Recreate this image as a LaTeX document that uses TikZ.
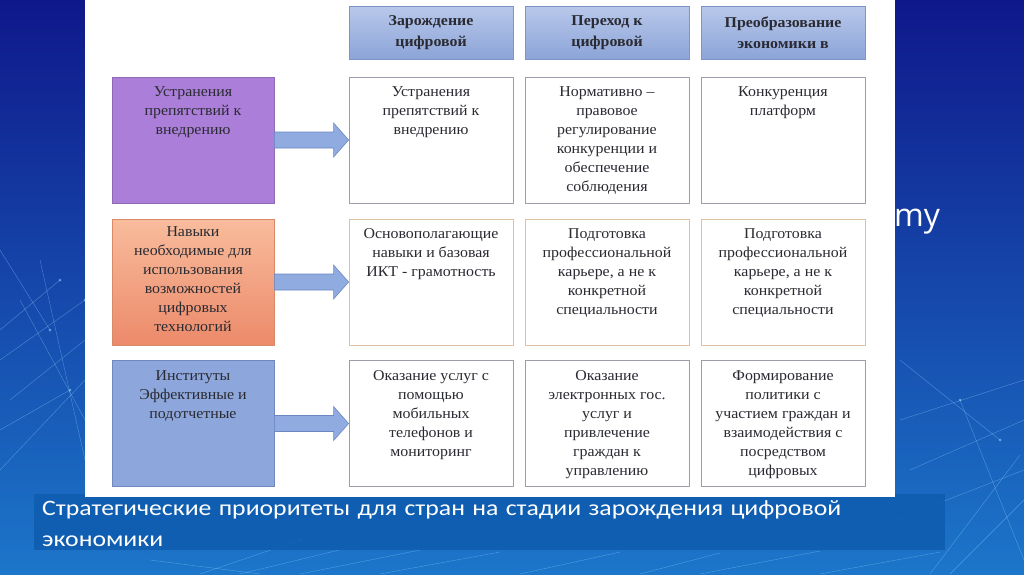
\documentclass[tikz,border=0pt]{standalone}
\usepackage{fontspec}
\setmainfont[FakeStretch=1.06]{Liberation Serif}
\newfontfamily\capfont[FakeStretch=1.17]{Carlito}
\newfontfamily\bgfont{Open Sans}
\usetikzlibrary{calc}
\definecolor{bgtop}{HTML}{0F188A}
\definecolor{bgbot}{HTML}{1C76CA}
\definecolor{netc}{HTML}{8FD0FF}
\definecolor{capband}{HTML}{0F5DB0}
\definecolor{hdrtop}{HTML}{B8C8EA}
\definecolor{hdrbot}{HTML}{8CA4D8}
\definecolor{hdrline}{HTML}{7F93C4}
\definecolor{purp}{HTML}{AB7FD9}
\definecolor{purpline}{HTML}{8D6AB3}
\definecolor{orgtop}{HTML}{F8BC9C}
\definecolor{orgbot}{HTML}{EC8A6A}
\definecolor{orgline}{HTML}{D88A66}
\definecolor{bluebox}{HTML}{8DA7DC}
\definecolor{blueline}{HTML}{6F88BE}
\definecolor{greyline}{HTML}{9C9CAA}
\definecolor{tanline}{HTML}{DCC2A2}
\definecolor{arrfill}{HTML}{8FABDF}
\definecolor{arrline}{HTML}{6C88C2}
\definecolor{txt}{HTML}{2A2A32}
\tikzset{
  hdr/.style={draw=hdrline, line width=0.8pt, top color=hdrtop, bottom color=hdrbot,
    minimum width=164pt, minimum height=53pt, inner sep=0pt, align=center, text=txt,
    font=\bfseries\fontsize{15}{21}\selectfont},
  cellbox/.style={draw=#1, line width=0.8pt, fill=white, minimum width=164pt, minimum height=126pt, inner sep=0pt},
  leftbox/.style={draw=#1, line width=0.8pt, minimum width=162pt, minimum height=126pt, inner sep=0pt},
  celltxt/.style={anchor=north, align=center, text=txt, inner sep=0pt,
    font=\fontsize{15}{19}\selectfont},
  blockarrow/.style={fill=arrfill, draw=arrline, line width=0.6pt, line join=miter},
  net/.style={draw=netc, line width=0.4pt, opacity=0.45},
}
\begin{document}
\begin{tikzpicture}[x=1pt,y=-1pt]
\useasboundingbox (0,0) rectangle (1024,574);
\shade[top color=bgtop, bottom color=bgbot] (0,0) rectangle (1024,574);
% faint network lines in background
\foreach \a/\b/\c/\d in {0/330/60/280, 0/360/85/300, 10/400/85/340, 0/430/70/390, 20/300/85/420, 0/470/85/380,
  40/260/85/460, 0/250/50/330, 200/574/300/540, 240/574/360/545, 300/574/420/550, 380/574/500/552,
  150/560/260/574, 520/574/620/552, 640/574/720/553, 900/420/1024/380, 910/470/1024/420, 895/520/1024/470,
  950/574/1024/500, 900/360/1000/440, 930/574/1020/455, 960/400/1024/560, 700/574/820/551, 820/574/940/552}
  {\draw[net] (\a,\b) -- (\c,\d);}
\foreach \p in {(60,280),(85,300),(70,390),(50,330),(1000,440),(960,400),(300,540)}
  {\fill[netc, opacity=0.6] \p circle (1.5pt);}
% background text partly hidden
\node[anchor=base west, text=white, inner sep=0pt, font=\bgfont\fontsize{32}{38}\selectfont] (bgword) at (894,226) {my};
% caption band
\fill[capband, opacity=0.9] (34,494) rectangle (945,550);
% white panel
\fill[white] (85,0) rectangle (895,497);
\node[anchor=north west, inner sep=0pt, text=white, align=left, text width=905pt,
  font=\capfont\fontsize{22}{31}\selectfont] (caption) at (42,500)
  {Стратегические приоритеты для стран на стадии зарождения цифровой\\экономики};
% headers
\node[hdr] (h1) at (431,32.5) {Зарождение\\цифровой};
\node[hdr] (h2) at (607,32.5) {Переход к\\цифровой};
\node[hdr] (h3) at (783,32.5) {Преобразование\\экономики в};
% left boxes
\node[leftbox=purpline, fill=purp] (l1) at (193,140) {};
\node[leftbox=orgline, top color=orgtop, bottom color=orgbot] (l2) at (193,282) {};
\node[leftbox=blueline, fill=bluebox] (l3) at (193,423.5) {};
% cells
\node[cellbox=greyline] (c11) at (431,140) {};
\node[cellbox=greyline] (c12) at (607,140) {};
\node[cellbox=greyline] (c13) at (783,140) {};
\node[cellbox=tanline] (c21) at (431,282) {};
\node[cellbox=tanline] (c22) at (607,282) {};
\node[cellbox=tanline] (c23) at (783,282) {};
\node[cellbox=greyline] (c31) at (431,423.5) {};
\node[cellbox=greyline] (c32) at (607,423.5) {};
\node[cellbox=greyline] (c33) at (783,423.5) {};
% texts
\node[celltxt] (t1) at ([yshift=-10pt]l1.north) {Устранения\\препятствий к\\внедрению};
\node[celltxt] (t2) at ([yshift=-8pt]l2.north) {Навыки\\необходимые для\\использования\\возможностей\\цифровых\\технологий};
\node[celltxt] (t3) at ([yshift=-10pt]l3.north) {Институты\\Эффективные и\\подотчетные};
\node[celltxt] (t11) at ([yshift=-10pt]c11.north) {Устранения\\препятствий к\\внедрению};
\node[celltxt] (t12) at ([yshift=-10pt]c12.north) {Нормативно –\\правовое\\регулирование\\конкуренции и\\обеспечение\\соблюдения};
\node[celltxt] (t13) at ([yshift=-10pt]c13.north) {Конкуренция\\платформ};
\node[celltxt] (t21) at ([yshift=-10pt]c21.north) {Основополагающие\\навыки и базовая\\ИКТ - грамотность};
\node[celltxt] (t22) at ([yshift=-10pt]c22.north) {Подготовка\\профессиональной\\карьере, а не к\\конкретной\\специальности};
\node[celltxt] (t23) at ([yshift=-10pt]c23.north) {Подготовка\\профессиональной\\карьере, а не к\\конкретной\\специальности};
\node[celltxt] (t31) at ([yshift=-10pt]c31.north) {Оказание услуг с\\помощью\\мобильных\\телефонов и\\мониторинг};
\node[celltxt] (t32) at ([yshift=-10pt]c32.north) {Оказание\\электронных гос.\\услуг и\\привлечение\\граждан к\\управлению};
\node[celltxt] (t33) at ([yshift=-10pt]c33.north) {Формирование\\политики с\\участием граждан и\\взаимодействия с\\посредством\\цифровых};
% block arrows
\foreach \l/\c in {l1/c11, l2/c21, l3/c31}{
  \draw[blockarrow]
    ($(\l.east)+(0,-8)$) -- ($(\c.west)+(-15,-8)$) -- ($(\c.west)+(-15,-17)$)
    -- (\c.west) -- ($(\c.west)+(-15,17)$) -- ($(\c.west)+(-15,8)$)
    -- ($(\l.east)+(0,8)$) -- cycle;
}
\end{tikzpicture}
\end{document}
